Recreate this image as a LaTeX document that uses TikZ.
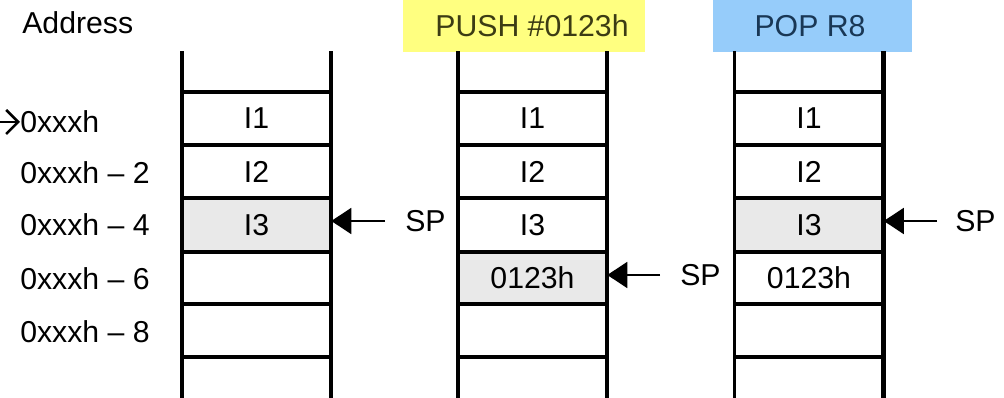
\documentclass[tikz,border=0pt]{standalone}
\usepackage{fontspec}
\setmainfont{Liberation Sans}
\usetikzlibrary{positioning, arrows.meta}

\definecolor{pushbg}{RGB}{255,255,128}
\definecolor{popbg}{RGB}{150,204,250}
\definecolor{pushtxt}{RGB}{60,60,20}
\definecolor{poptxt}{RGB}{25,55,85}
\definecolor{topcell}{RGB}{233,233,233}

\newcommand{\stkfont}{\fontsize{21.5}{25}\selectfont}

\begin{document}
\begin{tikzpicture}[x=0.025cm, y=-0.025cm,
    cell/.style  = {rectangle, inner sep=0pt, minimum width=3.725cm,
                    minimum height=1.3cm, font=\stkfont},
    topc/.style  = {cell, fill=topcell},
    addr/.style  = {anchor=west, inner sep=0pt, font=\stkfont},
    hdr/.style   = {inner sep=0pt, font=\stkfont},
    rail/.style  = {line width=2.2pt, line cap=rect},
    sparr/.style = {line width=1.4pt,
                    -{Triangle[length=0.5cm, width=0.65cm]}},
    sptxt/.style = {anchor=west, inner sep=0pt, font=\stkfont},
]

%% ---- Layout (pixel grid) ----
\def\half{74.5}
\def\xA{256.5}
\def\xB{532.5}
\def\xC{809}

\useasboundingbox (0,0) rectangle (1004,398);

%% ---- Headers ----
\node[addr] (addrhdr) at (22,23) {Address};
\fill[pushbg] (403,0) rectangle (645,52);
\node[hdr, text=pushtxt] (pushhdr) at (532,26) {PUSH \#0123h};
\fill[popbg] (713,0) rectangle (912,52);
\node[hdr, text=poptxt] (pophdr) at (810,26) {POP R8};

%% ---- Address column ----
\node[addr] (addr0) at (20,122) {0xxxh};
\node[addr] (addr2) at (20,173) {0xxxh -- 2};
\node[addr] (addr4) at (20,225) {0xxxh -- 4};
\node[addr] (addr6) at (20,279) {0xxxh -- 6};
\node[addr] (addr8) at (20,332) {0xxxh -- 8};
\coordinate (entry) at (0,122);
\draw[line width=1.8pt,
      -{Straight Barb[length=0.3cm, width=0.6cm, line width=1.8pt]}]
    (entry) -- (addr0.west);

%% ---- Stack before ----
\node[cell] (pre1) at (\xA,118.5) {I1};
\node[cell] (pre2) at (\xA,171.5) {I2};
\node[topc] (pre3) at (\xA,225)   {I3};
\node[cell] (pre4) at (\xA,278)   {};
\node[cell] (pre5) at (\xA,330.5) {};

%% ---- Stack after PUSH ----
\node[cell] (push1) at (\xB,118.5) {I1};
\node[cell] (push2) at (\xB,171.5) {I2};
\node[cell] (push3) at (\xB,225)   {I3};
\node[topc] (push4) at (\xB,278)   {0123h};
\node[cell] (push5) at (\xB,330.5) {};

%% ---- Stack after POP ----
\node[cell] (pop1) at (\xC,118.5) {I1};
\node[cell] (pop2) at (\xC,171.5) {I2};
\node[topc] (pop3) at (\xC,225)   {I3};
\node[cell] (pop4) at (\xC,278)   {0123h};
\node[cell] (pop5) at (\xC,330.5) {};

%% ---- Rails and rungs ----
\foreach \sx in {\xA,\xB,\xC} {
    \draw[rail] (\sx-\half,53) -- (\sx-\half,400);
    \draw[rail] (\sx+\half,53) -- (\sx+\half,400);
    \foreach \ry/\lw in {92/2.2pt, 145/3.2pt, 198/2.2pt,
                         252/3.2pt, 304/2.2pt, 357/3.2pt}
        \draw[line width=\lw] (\sx-\half,\ry) -- (\sx+\half,\ry);
}
\draw[rail, line width=3.4pt] (\xC+\half,53) -- (\xC+\half,400);

%% ---- Stack pointer ----
\node[sptxt] (sp1) at (405,221) {SP};
\node[sptxt] (sp2) at (680,275) {SP};
\node[sptxt] (sp3) at (955,221) {SP};
\coordinate[left=0.5cm of sp1.west]  (sp1tail);
\coordinate[left=0.5cm of sp2.west]  (sp2tail);
\coordinate[left=0.45cm of sp3.west] (sp3tail);
\draw[sparr] (sp1tail) -- (sp1tail -| pre3.east);
\draw[sparr] (sp2tail) -- (sp2tail -| push4.east);
\draw[sparr] (sp3tail) -- (sp3tail -| pop3.east);

\end{tikzpicture}
\end{document}
